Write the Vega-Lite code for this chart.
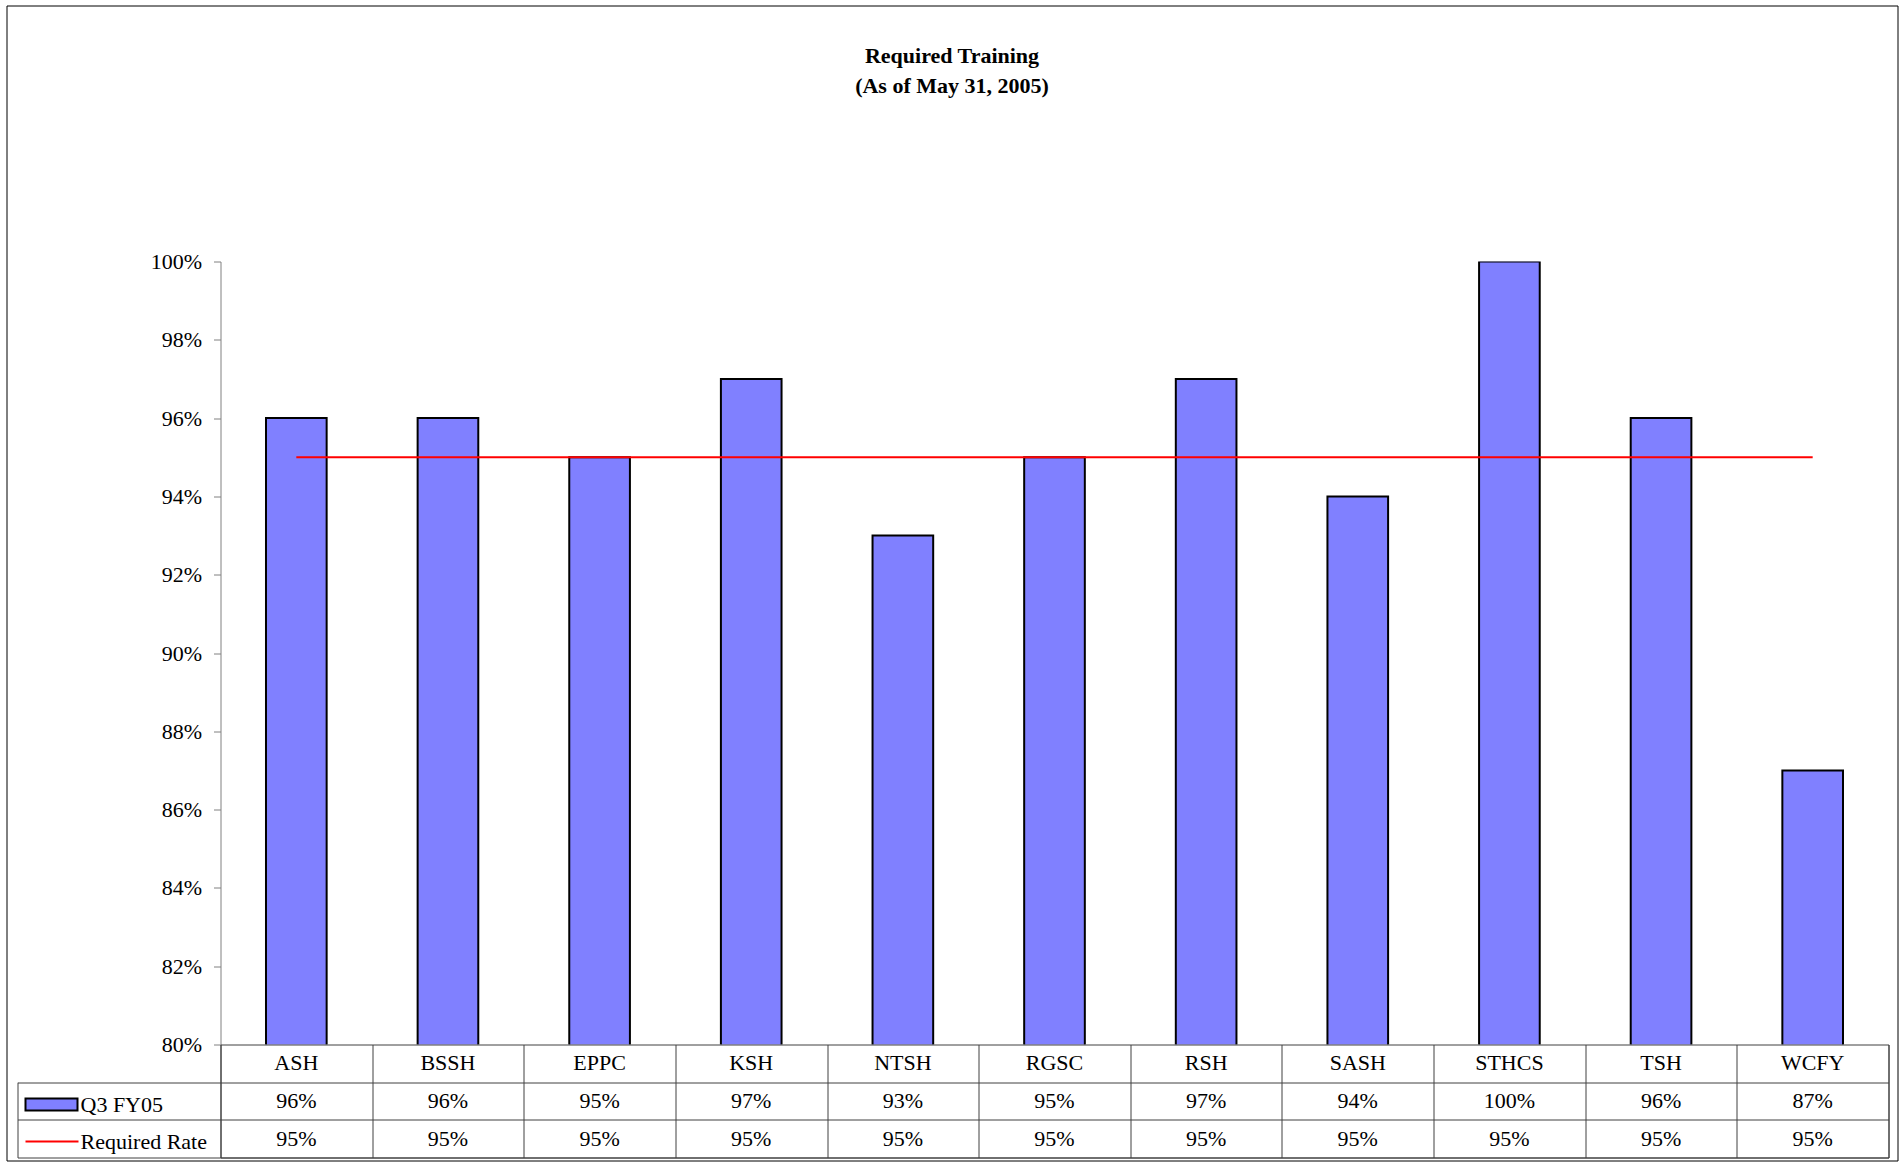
{
  "$schema": "https://vega.github.io/schema/vega-lite/v6.json",
  "padding": {"left": 5.5, "top": 4.5, "right": 4, "bottom": 1},
  "background": "white",
  "title": {"text": ["Required Training", "(As of May 31, 2005)"], "font": "Liberation Serif", "fontSize": 22, "fontWeight": "bold", "lineHeight": 30, "offset": -93, "anchor": "middle", "color": "black"},
  "data": {"values": [
    {"site": "ASH", "q3": 0.96, "req": 0.95},
    {"site": "BSSH", "q3": 0.96, "req": 0.95},
    {"site": "EPPC", "q3": 0.95, "req": 0.95},
    {"site": "KSH", "q3": 0.97, "req": 0.95},
    {"site": "NTSH", "q3": 0.93, "req": 0.95},
    {"site": "RGSC", "q3": 0.95, "req": 0.95},
    {"site": "RSH", "q3": 0.97, "req": 0.95},
    {"site": "SASH", "q3": 0.94, "req": 0.95},
    {"site": "STHCS", "q3": 1.0, "req": 0.95},
    {"site": "TSH", "q3": 0.96, "req": 0.95},
    {"site": "WCFY", "q3": 0.87, "req": 0.95}
  ]},
  "spacing": 0,
  "bounds": "flush",
  "resolve": {"scale": {"x": "independent", "y": "independent"}},
  "vconcat": [
    {
      "width": 1668,
      "height": 783,
      "view": {"stroke": null},
      "layer": [
        {
          "mark": {"type": "bar", "stroke": "black", "strokeWidth": 2, "clip": true},
          "encoding": {
            "x": {"field": "site", "type": "nominal", "sort": null, "scale": {"domain": ["ASH","BSSH","EPPC","KSH","NTSH","RGSC","RSH","SASH","STHCS","TSH","WCFY"], "paddingInner": 0.6, "paddingOuter": 0.3}, "axis": null},
            "y": {"field": "q3", "type": "quantitative", "scale": {"domain": [0.8, 1.0], "zero": false, "nice": false},
                  "axis": {"values": [0.8,0.82,0.84,0.86,0.88,0.9,0.92,0.94,0.96,0.98,1.0], "format": ".0%", "title": null, "grid": false, "domainColor": "#808080", "tickColor": "#808080", "tickSize": 7, "labelFont": "Liberation Serif", "labelFontSize": 22, "labelColor": "black", "labelPadding": 12}},
            "fill": {"datum": "Q3 FY05", "type": "nominal",
                     "scale": {"domain": ["Q3 FY05"], "range": ["#8080FF"]},
                     "legend": {"orient": "none", "legendX": -197, "legendY": 832, "title": null, "padding": 0, "symbolSize": 400, "symbolType": "M-0.9,-0.6H4.3V0.6H-0.9Z", "symbolStrokeColor": "black", "symbolStrokeWidth": 2, "labelOffset": 35, "labelFont": "Liberation Serif", "labelFontSize": 22, "labelColor": "black"}}
          }
        },
        {
          "mark": {"type": "line", "strokeWidth": 2},
          "encoding": {
            "x": {"field": "site", "type": "nominal", "sort": null},
            "y": {"field": "req", "type": "quantitative"},
            "stroke": {"datum": "Required Rate", "type": "nominal",
                       "scale": {"domain": ["Required Rate"], "range": ["#FF0000"]},
                       "legend": {"orient": "none", "legendX": -197, "legendY": 869, "title": null, "padding": 0, "symbolSize": 400, "symbolType": "M-0.9,0H4.4", "symbolFillColor": "transparent", "symbolStrokeWidth": 2, "labelOffset": 35, "labelFont": "Liberation Serif", "labelFontSize": 22, "labelColor": "black"}}
          }
        }
      ]
    },
    {
      "width": 1668,
      "height": 113,
      "view": {"stroke": "#404040", "strokeWidth": 1},
      "encoding": {
        "x": {"field": "site", "type": "nominal", "sort": null, "scale": {"domain": ["ASH","BSSH","EPPC","KSH","NTSH","RGSC","RSH","SASH","STHCS","TSH","WCFY"], "paddingInner": 0, "paddingOuter": 0},
              "axis": {"orient": "top", "grid": true, "tickBand": "extent", "labels": false, "ticks": false, "domain": false, "title": null, "gridColor": "#404040", "gridWidth": 1, "gridOpacity": 1}}
      },
      "layer": [
        {
          "mark": {"type": "text", "font": "Liberation Serif", "fontSize": 22},
          "encoding": {
            "text": {"field": "site"},
            "color": {"datum": 1, "type": "quantitative",
                      "scale": {"domain": [0, 1], "range": ["black", "black"]},
                      "legend": {"orient": "none", "legendX": -214, "legendY": -256, "direction": "vertical", "title": null, "padding": 0, "strokeColor": "black",
                                 "gradientLength": 1155, "gradientThickness": 1891, "gradientOpacity": 0, "gradientStrokeWidth": 0,
                                 "labelOffset": 0, "labelFontSize": 0, "labelOpacity": 0, "labelExpr": "''", "tickCount": 1}},
            "y": {"datum": "cat", "type": "nominal", "scale": {"domain": ["cat", "Q3 FY05", "Required Rate"], "paddingInner": 0, "paddingOuter": 0},
                  "axis": {"orient": "left", "offset": 203, "labels": false, "ticks": true, "tickSize": -203, "tickColor": "#404040", "tickOffset": 18.83, "grid": true, "gridColor": "#404040", "gridOpacity": 1, "domain": true, "domainColor": "#404040", "domainDash": [0, 37.7, 80, 0], "title": null}}
          }
        },
        {
          "mark": {"type": "text", "font": "Liberation Serif", "fontSize": 22, "color": "black"},
          "encoding": {
            "text": {"field": "q3", "format": ".0%"},
            "y": {"datum": "Q3 FY05", "type": "nominal"}
          }
        },
        {
          "mark": {"type": "text", "font": "Liberation Serif", "fontSize": 22, "color": "black"},
          "encoding": {
            "text": {"field": "req", "format": ".0%"},
            "y": {"datum": "Required Rate", "type": "nominal"}
          }
        }
      ]
    }
  ]
}
